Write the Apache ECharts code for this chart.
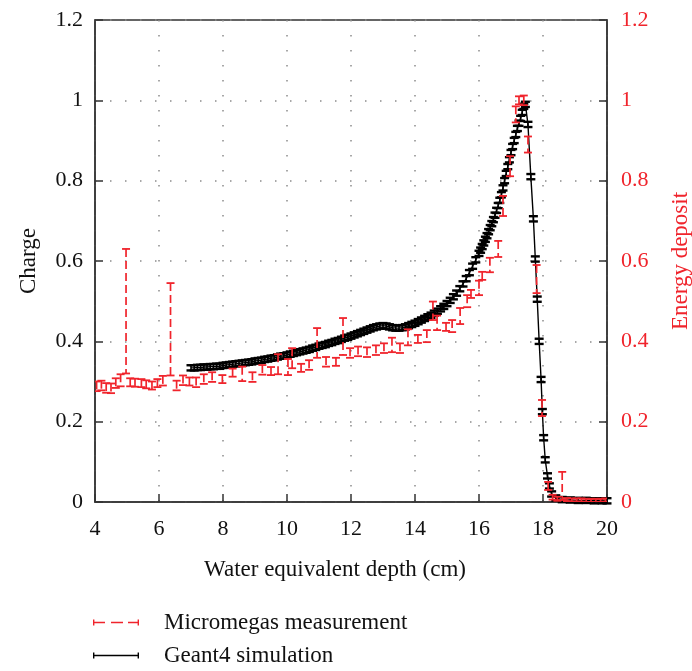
<!DOCTYPE html>
<html>
<head>
<meta charset="utf-8">
<script src="https://cdn.jsdelivr.net/npm/echarts@6/dist/echarts.min.js"></script>
<style>
  html, body { margin: 0; padding: 0; background: #fff; overflow: hidden; }
  #main { width: 692px; height: 671px; }
</style>
</head>
<body>
<div id="main"></div>
<script>
// Micromegas measurement: depth (cm), energy deposit, half error bar
var megasDepth = [4.05, 4.2, 4.35, 4.5, 4.65, 4.8, 4.97, 5.1, 5.25, 5.45, 5.6, 5.78, 5.95, 6.12, 6.36, 6.55,
    6.75, 6.95, 7.16, 7.4, 7.66, 7.98, 8.3, 8.6, 8.92, 9.23, 9.5, 9.72, 10.03, 10.16, 10.44, 10.69, 10.94,
    11.22, 11.53, 11.75, 11.97, 12.22, 12.5, 12.78, 13.03, 13.28, 13.53, 13.78, 14.09, 14.37, 14.56, 14.69,
    14.97, 15.16, 15.41, 15.63, 15.75, 16.0, 16.1, 16.34, 16.6, 16.75, 16.97, 17.15, 17.25, 17.4, 17.53,
    17.8, 17.97, 18.16, 18.3, 18.45, 18.6, 18.75, 18.9, 19.05, 19.2, 19.35, 19.5, 19.65, 19.8, 19.95];
var megasValue = [0.288, 0.29, 0.284, 0.283, 0.296, 0.303, 0.475, 0.298, 0.297, 0.296, 0.293, 0.29, 0.296, 0.302, 0.43, 0.29,
    0.303, 0.3, 0.298, 0.306, 0.311, 0.306, 0.322, 0.319, 0.311, 0.329, 0.326, 0.343, 0.336, 0.358, 0.334, 0.341, 0.396,
    0.349, 0.349, 0.412, 0.371, 0.375, 0.373, 0.378, 0.383, 0.391, 0.383, 0.41, 0.406, 0.413, 0.476, 0.446,
    0.436, 0.438, 0.463, 0.5, 0.518, 0.533, 0.563, 0.59, 0.63, 0.737, 0.836, 0.965, 1.0, 1.0, 0.89,
    0.555, 0.234, 0.04, 0.012, 0.008, 0.04, 0.006, 0.005, 0.005, 0.005, 0.004, 0.004, 0.004, 0.004, 0.005];
var megasError = [0.012, 0.012, 0.012, 0.012, 0.012, 0.015, 0.155, 0.01, 0.01, 0.01, 0.01, 0.01, 0.01, 0.012, 0.115, 0.012,
    0.012, 0.01, 0.012, 0.012, 0.012, 0.01, 0.01, 0.018, 0.012, 0.012, 0.01, 0.025, 0.02, 0.025, 0.01, 0.012, 0.037,
    0.012, 0.01, 0.046, 0.012, 0.012, 0.012, 0.012, 0.012, 0.018, 0.012, 0.02, 0.01, 0.015, 0.023, 0.018,
    0.01, 0.015, 0.02, 0.015, 0.01, 0.018, 0.01, 0.018, 0.02, 0.025, 0.025, 0.02, 0.01, 0.012, 0.02,
    0.035, 0.02, 0.01, 0.006, 0.005, 0.035, 0.004, 0.004, 0.004, 0.004, 0.004, 0.004, 0.004, 0.004, 0.004];

// Geant4 simulation: depth (cm), charge
var geantDepth = [7.0, 7.1, 7.2, 7.3, 7.4, 7.5, 7.6, 7.7, 7.8, 7.9, 8.0, 8.1, 8.2, 8.3, 8.4, 8.5, 8.6, 8.7, 8.8, 8.9,
    9.0, 9.1, 9.2, 9.3, 9.4, 9.5, 9.6, 9.7, 9.8, 9.9, 10.0, 10.1, 10.2, 10.3, 10.4, 10.5, 10.6, 10.7, 10.8, 10.9,
    11.0, 11.1, 11.2, 11.3, 11.4, 11.5, 11.6, 11.7, 11.8, 11.9, 12.0, 12.1, 12.2, 12.3, 12.4, 12.5, 12.6, 12.7, 12.8, 12.9,
    13.0, 13.1, 13.2, 13.3, 13.4, 13.5, 13.6, 13.7, 13.8, 13.9, 14.0, 14.1, 14.2, 14.3, 14.4, 14.5, 14.6, 14.7, 14.8, 14.9,
    15.0, 15.1, 15.2, 15.3, 15.4, 15.5, 15.6, 15.7, 15.8, 15.9,
    16.0, 16.05, 16.1, 16.15, 16.2, 16.25, 16.3, 16.35, 16.4, 16.45, 16.5, 16.55, 16.6, 16.65, 16.7, 16.75,
    16.8, 16.85, 16.9, 16.95, 17.0, 17.05, 17.1, 17.15, 17.2, 17.25, 17.3, 17.35, 17.4, 17.45,
    17.53, 17.62, 17.7, 17.76, 17.82, 17.88, 17.94, 17.98, 18.02, 18.07, 18.14, 18.2, 18.27, 18.4,
    18.6, 18.85, 19.1, 19.35, 19.6, 19.85, 20.0];
var geantValue = [0.334, 0.334, 0.335, 0.335, 0.336, 0.336, 0.337, 0.337, 0.338, 0.338, 0.34, 0.341, 0.342, 0.343, 0.344, 0.345, 0.346, 0.347, 0.348, 0.349,
    0.351, 0.352, 0.353, 0.355, 0.356, 0.358, 0.359, 0.361, 0.363, 0.364, 0.366, 0.368, 0.37, 0.372, 0.374, 0.376, 0.378, 0.38, 0.383, 0.385,
    0.388, 0.39, 0.392, 0.395, 0.397, 0.4, 0.402, 0.405, 0.408, 0.41, 0.413, 0.416, 0.419, 0.422, 0.425, 0.428, 0.431, 0.434, 0.436, 0.438,
    0.439, 0.438, 0.436, 0.434, 0.433, 0.433, 0.434, 0.436, 0.439, 0.442, 0.445, 0.449, 0.453, 0.457, 0.461, 0.465, 0.47, 0.475, 0.481, 0.487,
    0.494, 0.502, 0.511, 0.52, 0.531, 0.543, 0.556, 0.571, 0.587, 0.603,
    0.619, 0.627, 0.636, 0.645, 0.654, 0.663, 0.673, 0.683, 0.693, 0.703, 0.714, 0.726, 0.738, 0.751, 0.765, 0.782,
    0.8, 0.818, 0.835, 0.852, 0.87, 0.885, 0.9, 0.915, 0.93, 0.943, 0.955, 0.97, 0.985, 0.99,
    0.94, 0.81, 0.705, 0.605, 0.505, 0.4, 0.305, 0.225, 0.16, 0.105, 0.065, 0.04, 0.02, 0.01,
    0.006, 0.005, 0.004, 0.004, 0.003, 0.003, 0.003];
var geantError = 0.0065;

// axes
var depthMin = 4, depthMax = 20, depthStep = 2;
var chargeMin = 0, chargeMax = 1.2, chargeStep = 0.2;

var RED = '#f0242c';
var FONT = '"Liberation Serif", "DejaVu Serif", serif';

var myChart = echarts.init(document.getElementById('main'));

var megasData = megasDepth.map(function (d, i) { return [d, megasValue[i], megasError[i]]; });
var geantData = geantDepth.map(function (d, i) { return [d, geantValue[i]]; });

// red error bar: dashed stem, solid caps
function renderMegas(params, api) {
    var x = api.value(0), y = api.value(1), e = api.value(2);
    var hi = api.coord([x, y + e]);
    var lo = api.coord([x, Math.max(y - e, 0)]);
    var hw = 4;
    return {
        type: 'group',
        children: [
            { type: 'line', shape: { x1: hi[0], y1: hi[1], x2: lo[0], y2: lo[1] },
              style: { stroke: RED, lineWidth: 1.7, lineDash: [8, 4] } },
            { type: 'line', shape: { x1: hi[0] - hw, y1: hi[1], x2: hi[0] + hw, y2: hi[1] },
              style: { stroke: RED, lineWidth: 1.8 } },
            { type: 'line', shape: { x1: lo[0] - hw, y1: lo[1], x2: lo[0] + hw, y2: lo[1] },
              style: { stroke: RED, lineWidth: 1.8 } }
        ]
    };
}

// black error bar marks on the simulation curve
function renderGeant(params, api) {
    var x = api.value(0), y = api.value(1);
    var hi = api.coord([x, y + geantError]);
    var lo = api.coord([x, y - geantError]);
    var hw = 4.5;
    return {
        type: 'group',
        children: [
            { type: 'line', shape: { x1: hi[0], y1: hi[1], x2: lo[0], y2: lo[1] }, style: { stroke: '#000', lineWidth: 1.6 } },
            { type: 'line', shape: { x1: hi[0] - hw, y1: hi[1], x2: hi[0] + hw, y2: hi[1] }, style: { stroke: '#000', lineWidth: 2.4 } },
            { type: 'line', shape: { x1: lo[0] - hw, y1: lo[1], x2: lo[0] + hw, y2: lo[1] }, style: { stroke: '#000', lineWidth: 2.4 } }
        ]
    };
}

var dots = { color: '#8c8c8c', width: 1.5, type: [1.5, 13.5] };

var option = {
    animation: false,
    backgroundColor: '#fff',
    grid: {
        left: 95, right: 85, top: 20, bottom: 169,
        outerBoundsMode: 'none',
        containLabel: false,
        show: true, borderColor: '#333', borderWidth: 1.5
    },
    legend: {
        orient: 'vertical',
        left: 93, top: 611,
        padding: 0,
        itemWidth: 46, itemHeight: 6, itemGap: 10,
        textStyle: { fontFamily: FONT, fontSize: 23, color: '#111', padding: [0, 0, 0, 20] },
        data: [
            { name: 'Micromegas measurement',
              icon: 'path://M0,0h1.4v6h-1.4z M0,2.3h12v1.4h-12z M18,2.3h12v1.4h-12z M35,2.3h11v1.4h-11z M44.6,0h1.4v6h-1.4z' },
            { name: 'Geant4 simulation',
              icon: 'path://M0,0h1.4v6h-1.4z M0,2.3h46v1.4h-46z M44.6,0h1.4v6h-1.4z' }
        ]
    },
    xAxis: {
        type: 'value',
        min: depthMin, max: depthMax, interval: depthStep,
        name: 'Water equivalent depth (cm)',
        nameLocation: 'middle', nameGap: 56,
        nameTextStyle: { fontFamily: FONT, fontSize: 23, color: '#111', padding: [0, 32, 0, 0] },
        axisLine: { lineStyle: { color: '#333', width: 1.5 } },
        axisTick: { inside: true, length: 8, lineStyle: { color: '#333', width: 1.5 } },
        axisLabel: { fontFamily: FONT, fontSize: 22, color: '#111', margin: 16 },
        splitLine: { show: true, lineStyle: dots }
    },
    yAxis: [
        {
            type: 'value',
            min: chargeMin, max: chargeMax, interval: chargeStep,
            name: 'Charge',
            nameLocation: 'middle', nameRotate: 90, nameGap: 55,
            nameTextStyle: { fontFamily: FONT, fontSize: 23, color: '#111' },
            axisLine: { show: true, lineStyle: { color: '#333', width: 1.5 } },
            axisTick: { show: true, inside: true, length: 8, lineStyle: { color: '#333', width: 1.5 } },
            axisLabel: { fontFamily: FONT, fontSize: 22, color: '#111', margin: 12 },
            splitLine: { show: true, lineStyle: dots }
        },
        {
            type: 'value',
            position: 'right',
            min: chargeMin, max: chargeMax, interval: chargeStep,
            name: 'Energy deposit',
            nameLocation: 'middle', nameRotate: 90, nameGap: 62,
            nameTextStyle: { fontFamily: FONT, fontSize: 23, color: RED },
            axisLine: { show: true, lineStyle: { color: '#333', width: 1.5 } },
            axisTick: { show: true, inside: true, length: 8, lineStyle: { color: '#333', width: 1.5 } },
            axisLabel: { fontFamily: FONT, fontSize: 22, color: RED, margin: 14 },
            splitLine: { show: false }
        }
    ],
    series: [
        {
            name: 'Geant4 simulation',
            type: 'line',
            data: geantData,
            symbol: 'none',
            itemStyle: { color: '#000' },
            lineStyle: { color: '#000', width: 1.4 },
            z: 3
        },
        {
            name: 'Geant4 simulation',
            type: 'custom',
            renderItem: renderGeant,
            data: geantData,
            encode: { x: 0, y: 1 },
            itemStyle: { color: '#000' },
            z: 3
        },
        {
            name: 'Micromegas measurement',
            type: 'custom',
            yAxisIndex: 1,
            renderItem: renderMegas,
            data: megasData,
            encode: { x: 0, y: 1 },
            itemStyle: { color: RED },
            clip: true,
            z: 4
        }
    ]
};

myChart.setOption(option);
</script>
</body>
</html>
